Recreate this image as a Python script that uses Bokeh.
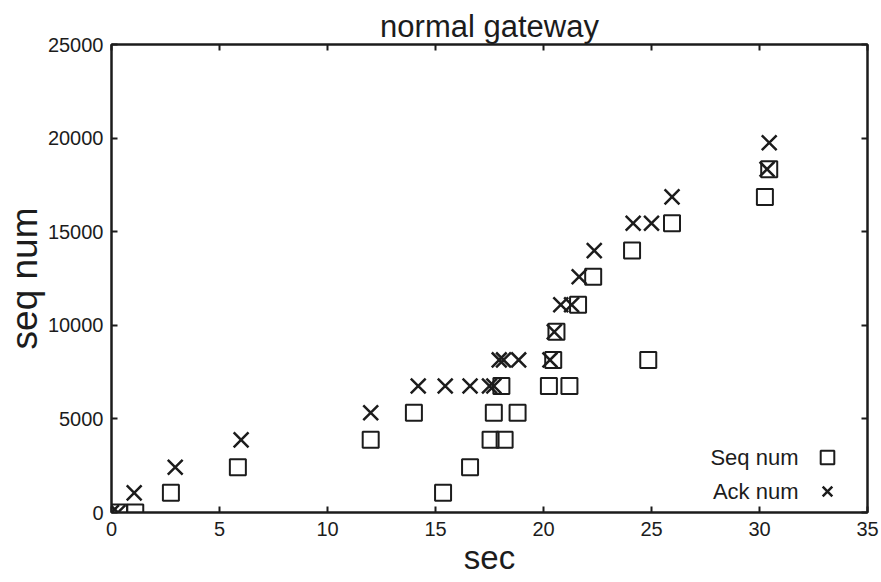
from bokeh.plotting import figure
from bokeh.models import (Range1d, LinearAxis, FixedTicker, Legend, LegendItem,
                          Label, ColumnDataSource, CustomJSTickFormatter)
from bokeh.embed import file_html
from bokeh.resources import INLINE

# Sequence numbers of sent segments (time in seconds, sequence number)
seq_time = [0.35, 1.1, 2.75, 5.85, 12.0, 14.0, 15.35, 16.6, 17.55, 18.2,
            17.7, 18.8, 18.05, 20.25, 21.2, 20.45, 24.85, 20.6, 21.6, 22.3,
            24.1, 25.95, 30.25, 30.45]
seq_num = [0, 0, 1050, 2420, 3880, 5330, 1050, 2420, 3880, 3880,
           5330, 5330, 6760, 6760, 6760, 8150, 8150, 9650, 11100, 12590,
           13990, 15450, 16860, 18340]

# Acknowledgement numbers returned
ack_time = [0.0, 0.3, 1.05, 2.95, 6.0, 12.0, 14.2, 15.45, 16.6, 17.5,
            17.7, 17.95, 18.15, 18.85, 20.3, 20.5, 20.8, 21.3, 21.65, 22.35,
            24.15, 25.0, 25.95, 30.35, 30.45]
ack_num = [0, 0, 1050, 2420, 3880, 5330, 6760, 6760, 6760, 6760,
           6760, 8150, 8150, 8150, 8150, 9650, 11100, 11100, 12590, 13990,
           15450, 15450, 16860, 18340, 19750]

x_ticks = [0, 5, 10, 15, 20, 25, 30, 35]
y_ticks = [0, 5000, 10000, 15000, 20000, 25000]

FONT = "Liberation Sans"
INK = "#1c1c1c"

p = figure(frame_width=756, frame_height=468,
           min_border_left=110, min_border_right=15,
           min_border_top=44, min_border_bottom=70,
           x_range=Range1d(0, 35), y_range=Range1d(0, 25000),
           output_backend="svg", toolbar_location=None,
           title="normal gateway")
p.background_fill_color = "white"
p.border_fill_color = "white"
p.grid.visible = False
p.outline_line_color = INK
p.outline_line_width = 2

p.title.align = "center"
p.title.text_font = FONT
p.title.text_font_size = "31px"
p.title.text_font_style = "normal"
p.title.text_color = INK
p.title.standoff = 2

xa = p.below[0]
ya = p.left[0]
xa.axis_label = "sec"
ya.axis_label = "seq num"

# tick-only axes along the top and right edges
top = LinearAxis(formatter=CustomJSTickFormatter(code="return ''"))
right = LinearAxis(formatter=CustomJSTickFormatter(code="return ''"))
p.add_layout(top, "above")
p.add_layout(right, "right")

for ax, ticks in ((xa, x_ticks), (top, x_ticks), (ya, y_ticks), (right, y_ticks)):
    ax.ticker = FixedTicker(ticks=ticks)
    ax.major_tick_in = 6
    ax.major_tick_out = 0
    ax.minor_tick_line_color = None
    ax.axis_line_color = INK
    ax.axis_line_width = 2
    ax.major_tick_line_color = INK
    ax.major_tick_line_width = 2
    ax.major_label_text_font = FONT
    ax.major_label_text_font_size = "20px"
    ax.major_label_text_color = INK
    ax.axis_label_text_font = FONT
    ax.axis_label_text_font_size = "37px"
    ax.axis_label_text_font_style = "normal"
    ax.axis_label_text_color = INK

for ax in (top, right):
    ax.major_label_standoff = 0

xa.axis_label_text_font_size = "33px"
xa.major_label_standoff = 9
xa.axis_label_standoff = 0
ya.major_label_standoff = 8
ya.axis_label_standoff = 0

seq_src = ColumnDataSource(dict(t=seq_time, v=seq_num))
ack_src = ColumnDataSource(dict(t=ack_time, v=ack_num))

r_seq = p.scatter("t", "v", source=seq_src, marker="square", size=16,
                  fill_color=None, line_color=INK, line_width=2)
r_ack = p.scatter("t", "v", source=ack_src, marker="x", size=21,
                  line_color=INK, line_width=2.5)

# legend: marker column on the right, names drawn to its left
legend = Legend(items=[LegendItem(label=" ", renderers=[r_seq]),
                       LegendItem(label=" ", renderers=[r_ack])],
                location=(697, 4), glyph_width=38, glyph_height=34,
                label_height=34, label_width=0, label_standoff=0,
                spacing=0, padding=0, margin=0,
                border_line_color=None, background_fill_alpha=0)
p.add_layout(legend)

for txt, y in (("Seq num", 55), ("Ack num", 21)):
    p.add_layout(Label(x=687, y=y, x_units="screen", y_units="screen",
                       text=txt, text_align="right", text_baseline="middle",
                       text_font=FONT, text_font_size="22px",
                       text_color=INK))

open("out.html", "w").write(file_html(p, INLINE))
